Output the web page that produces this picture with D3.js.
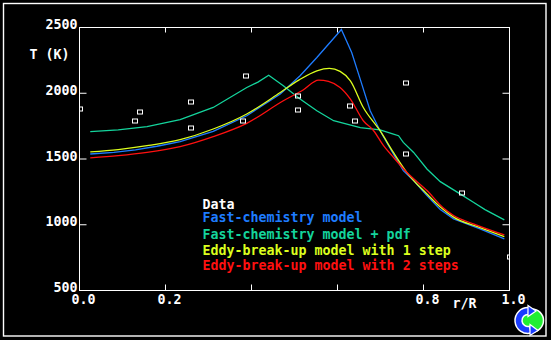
<!DOCTYPE html>
<html>
<head>
<meta charset="utf-8">
<script src="https://cdn.jsdelivr.net/npm/d3@7"></script>
<style>
  html, body { margin: 0; padding: 0; background: #000; }
  svg { display: block; }
  text { font-family: "DejaVu Sans Mono", "Liberation Mono", monospace; font-weight: bold; font-size: 13.3px; }
</style>
</head>
<body>
<svg id="chart" width="551" height="340"></svg>
<script>
// Measured temperatures (white squares)
const dataR = [0.0, 0.13, 0.14, 0.26, 0.26, 0.38, 0.388, 0.509, 0.509, 0.63, 0.64, 0.759, 0.76, 0.89, 1.0];
const dataT = [1880, 1786, 1857, 1933, 1736, 1786, 2131, 1981, 1870, 1905, 1786, 2078, 1538, 1242, 753];

// Fast-chemistry model
const fastR = [0.025, 0.08, 0.13, 0.18, 0.234, 0.311, 0.389, 0.467, 0.513, 0.552, 0.609, 0.633, 0.655, 0.676, 0.699, 0.730, 0.753, 0.777, 0.808, 0.839, 0.870, 0.93, 0.988];
const fastT = [1538, 1550, 1570, 1597, 1632, 1710, 1829, 1994, 2133, 2272, 2485, 2310, 2085, 1867, 1715, 1538, 1411, 1336, 1222, 1115, 1045, 971, 893];

// Fast-chemistry model + pdf
const pdfR = [0.025, 0.09, 0.157, 0.234, 0.311, 0.389, 0.415, 0.44, 0.474, 0.513, 0.552, 0.591, 0.653, 0.699, 0.730, 0.742, 0.753, 0.777, 0.808, 0.839, 0.885, 0.916, 0.943, 0.988];
const pdfT = [1708, 1722, 1746, 1799, 1892, 2044, 2085, 2137, 2057, 1956, 1867, 1791, 1738, 1721, 1690, 1677, 1626, 1550, 1424, 1328, 1235, 1171, 1115, 1037];

// Eddy-break-up model with 1 step
const ebu1R = [0.025, 0.09, 0.157, 0.234, 0.311, 0.389, 0.467, 0.51, 0.552, 0.581, 0.606, 0.630, 0.660, 0.699, 0.730, 0.761, 0.808, 0.839, 0.870, 0.93, 0.988];
const ebu1T = [1554, 1572, 1601, 1647, 1728, 1842, 2006, 2100, 2171, 2189, 2166, 2095, 1892, 1715, 1550, 1399, 1234, 1135, 1058, 980, 910];

// Eddy-break-up model with 2 steps
const ebu2R = [0.025, 0.09, 0.157, 0.234, 0.311, 0.389, 0.474, 0.52, 0.556, 0.579, 0.606, 0.630, 0.660, 0.684, 0.707, 0.730, 0.761, 0.808, 0.847, 0.870, 0.916, 0.988];
const ebu2T = [1508, 1525, 1550, 1594, 1670, 1771, 1943, 2025, 2100, 2090, 2044, 1956, 1791, 1715, 1601, 1513, 1399, 1260, 1125, 1070, 1007, 923];

const xTicks = [0.0, 0.2, 0.4, 0.6, 0.8, 1.0];
const xTickLabels = ["0.0", "0.2", "", "", "0.8", "1.0"];
const yTicks = [500, 1000, 1500, 2000, 2500];
const yTickLabels = ["500", "1000", "1500", "2000", "2500"];

const seriesNames = ["Fast-chemistry model", "Fast-chemistry model + pdf", "Eddy-break-up model with 1 step", "Eddy-break-up model with 2 steps"];
const seriesColors = ["#1e7cff", "#14d49c", "#dcff1e", "#ff1010"];

const svg = d3.select("#chart");
const x = d3.scaleLinear().domain([0, 1]).range([79.5, 509.5]);
const y = d3.scaleLinear().domain([500, 2500]).range([290.5, 27.5]);

// outer frame
svg.append("rect").attr("x", 3.5).attr("y", 3.5).attr("width", 542.5).attr("height", 332.5)
  .attr("fill", "none").attr("stroke", "#fff").attr("stroke-width", 1.4);

svg.append("clipPath").attr("id", "plotClip").append("rect")
  .attr("x", x(0)).attr("y", y(2500)).attr("width", x(1) - x(0)).attr("height", y(500) - y(2500));

// axis box
svg.append("rect").attr("x", x(0)).attr("y", y(2500)).attr("width", x(1) - x(0)).attr("height", y(500) - y(2500))
  .attr("fill", "none").attr("stroke", "#fff").attr("stroke-width", 1);

const innerX = xTicks.filter(d => d > 0 && d < 1);
const innerY = yTicks.filter(d => d > 500 && d < 2500);
const tickG = svg.append("g").attr("stroke", "#fff").attr("stroke-width", 1);
innerX.forEach(d => {
  tickG.append("line").attr("x1", x(d)).attr("x2", x(d)).attr("y1", y(500)).attr("y2", y(500) - 6);
  tickG.append("line").attr("x1", x(d)).attr("x2", x(d)).attr("y1", y(2500)).attr("y2", y(2500) + 5);
});
innerY.forEach(d => {
  tickG.append("line").attr("x1", x(0)).attr("x2", x(0) + 7).attr("y1", y(d)).attr("y2", y(d));
  tickG.append("line").attr("x1", x(1)).attr("x2", x(1) - 7).attr("y1", y(d)).attr("y2", y(d));
});

// tick labels
xTicks.forEach((d, i) => {
  if (!xTickLabels[i]) return;
  svg.append("text").attr("x", x(d) + 4).attr("y", 304).attr("text-anchor", "middle")
    .attr("fill", "#fff").text(xTickLabels[i]);
});
yTicks.forEach((d, i) => {
  svg.append("text").attr("x", 77.5).attr("y", y(d) + 1.5).attr("text-anchor", "end")
    .attr("fill", "#fff").text(yTickLabels[i]);
});
svg.append("text").attr("x", 29.5).attr("y", 59).attr("fill", "#fff").text("T (K)");
svg.append("text").attr("x", 452.5).attr("y", 308).attr("fill", "#fff").text("r/R");

// model curves: the two fast-chemistry curves keep their sharp peaks,
// the eddy-break-up curves are smooth
const curveTypes = [d3.curveLinear, d3.curveLinear, d3.curveMonotoneX, d3.curveMonotoneX];
const curves = [[fastR, fastT], [pdfR, pdfT], [ebu1R, ebu1T], [ebu2R, ebu2T]];
const plot = svg.append("g").attr("clip-path", "url(#plotClip)");
curves.forEach(([rs, ts], i) => {
  const line = d3.line().x(d => x(d[0])).y(d => y(d[1])).curve(curveTypes[i]);
  plot.append("path").datum(rs.map((r, k) => [r, ts[k]]))
    .attr("d", line).attr("fill", "none").attr("stroke", seriesColors[i]).attr("stroke-width", 1.3);
});

// measurements
plot.selectAll("rect.pt").data(dataR.map((r, k) => [r, dataT[k]])).join("rect")
  .attr("class", "pt")
  .attr("x", d => Math.round(x(d[0])) - 2.5).attr("y", d => Math.round(y(d[1])) - 2)
  .attr("width", 5).attr("height", 4)
  .attr("fill", "none").attr("stroke", "#fff").attr("stroke-width", 1);

// legend
const legendY = [208.8, 222.3, 239.3, 254.8, 270.2];
svg.append("text").attr("x", 202.5).attr("y", legendY[0]).attr("fill", "#fff").text("Data");
seriesNames.forEach((name, i) => {
  svg.append("text").attr("x", 202.5).attr("y", legendY[i + 1]).attr("fill", seriesColors[i]).text(name);
});

// corner emblem: green disc with a blue circular arrow
const logo = svg.append("g").attr("transform", "translate(529,320.5)");
logo.append("circle").attr("cx", 3).attr("cy", 0).attr("r", 11.5)
  .attr("fill", "#22ee33").attr("stroke", "#fff").attr("stroke-width", 1.5);
const arcGen = d3.arc().innerRadius(6).outerRadius(13).startAngle(Math.PI * 0.92).endAngle(Math.PI * 2.02);
logo.append("path").attr("d", arcGen()).attr("transform", "translate(-1,0)")
  .attr("fill", "#1a3cff").attr("stroke", "#fff").attr("stroke-width", 1.5);
logo.append("path").attr("d", "M-1,-15 L7,-9.5 L-1,-4 Z")
  .attr("fill", "#1a3cff").attr("stroke", "#fff").attr("stroke-width", 1.2);
logo.append("path").attr("d", "M1,4 L9,10 L1,15 Z")
  .attr("fill", "#1a3cff").attr("stroke", "#fff").attr("stroke-width", 1.2);
</script>
</body>
</html>
